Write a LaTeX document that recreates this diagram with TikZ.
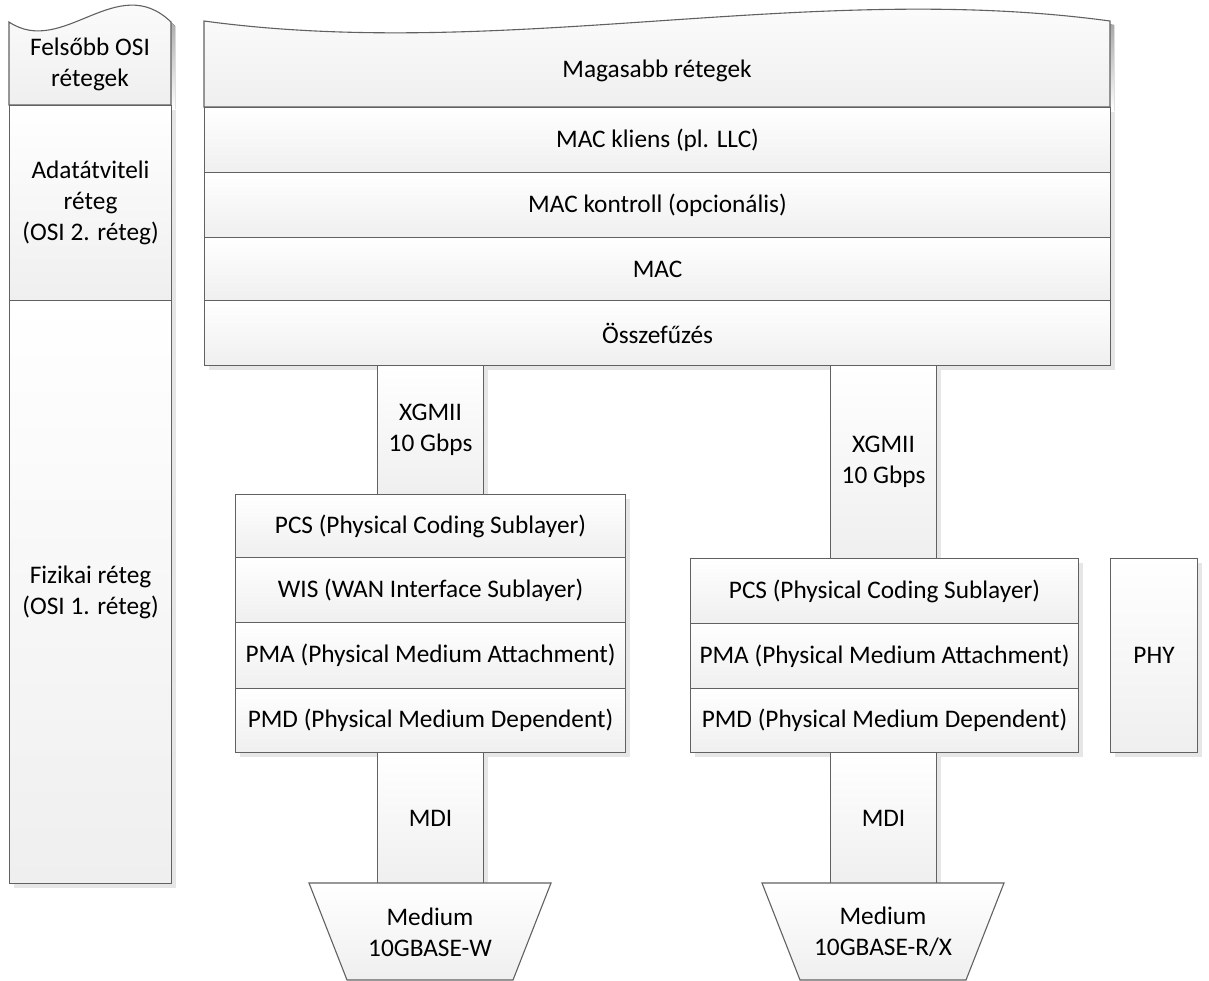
\documentclass[tikz,border=0pt]{standalone}
\usepackage{fontspec}
\setmainfont{Carlito}
\usetikzlibrary{shadows}
\definecolor{edge}{HTML}{616161}
\definecolor{shade}{HTML}{E6E6E6}
\definecolor{cellbot}{HTML}{EFEFEF}
\tikzset{
  txt/.style={align=center, font=\fontsize{25.3}{30.8}\selectfont, inner sep=0pt},
  cellfill/.style={top color=white, bottom color=cellbot},
  cellline/.style={draw=edge, line width=1.1pt},
  cell/.style={cellline, cellfill, rectangle, txt, anchor=north west,
    drop shadow={shadow xshift=4pt, shadow yshift=-4pt, fill=shade, opacity=1}},
}
% \cellbox{name}{left}{top}{right}{bottom}{text}
\newcommand\cellbox[6]{\node[cell, minimum width=#4pt-#2pt, minimum height=#5pt-#3pt] (#1) at (#2,#3) {#6};}
\begin{document}
\begin{tikzpicture}[x=1pt,y=-1pt]
\useasboundingbox (0,0) rectangle (1209,981);

% ---- OSI column on the left ----
\fill[shade] (13,109) -- (13,26) .. controls (67,62) and (121,-26) .. (175,26) -- (175,109) -- cycle;
\path[cellfill] (9,105) -- (9,22) .. controls (63,58) and (117,-30) .. (171,22) -- (171,105) -- cycle;
\draw[cellline] (9,105) -- (9,22) .. controls (63,58) and (117,-30) .. (171,22) -- (171,105) -- cycle;
\node[txt] (felso) at (90,64) {Felsőbb OSI\\rétegek};
\cellbox{adat}{9}{105}{171}{300}{Adatátviteli\\réteg\\(OSI 2. réteg)}
\cellbox{fiz}{9}{300}{171}{883}{Fizikai réteg\\(OSI 1. réteg)}

% ---- common upper layers ----
\fill[shade] (208,111) -- (208,25) .. controls (510,66) and (812,-16) .. (1114,25) -- (1114,111) -- cycle;
\path[cellfill] (204,107) -- (204,21) .. controls (506,62) and (808,-20) .. (1110,21) -- (1110,107) -- cycle;
\draw[cellline] (204,107) -- (204,21) .. controls (506,62) and (808,-20) .. (1110,21) -- (1110,107) -- cycle;
\node[txt] (magas) at (657,71) {Magasabb rétegek};
\cellbox{kliens}{204}{107}{1110}{172}{MAC kliens (pl. LLC)}
\cellbox{kontroll}{204}{172}{1110}{237}{MAC kontroll (opcionális)}
\cellbox{mac}{204}{237}{1110}{300}{MAC}
\cellbox{osszef}{204}{300}{1110}{365}{Összefűzés}

% ---- interfaces ----
\cellbox{xgmiiW}{377}{365}{483}{494}{XGMII\\10 Gbps}
\cellbox{xgmiiR}{830}{365}{936}{558}{XGMII\\10 Gbps}

% ---- 10GBASE-W sublayers ----
\cellbox{pcsW}{235}{494}{625}{557}{PCS (Physical Coding Sublayer)}
\cellbox{wisW}{235}{557}{625}{622}{WIS (WAN Interface Sublayer)}
\cellbox{pmaW}{235}{622}{625}{688}{PMA (Physical Medium Attachment)}
\cellbox{pmdW}{235}{688}{625}{752}{PMD (Physical Medium Dependent)}

% ---- 10GBASE-R/X sublayers ----
\cellbox{pcsR}{690}{558}{1078}{623}{PCS (Physical Coding Sublayer)}
\cellbox{pmaR}{690}{623}{1078}{688}{PMA (Physical Medium Attachment)}
\cellbox{pmdR}{690}{688}{1078}{752}{PMD (Physical Medium Dependent)}

\cellbox{phy}{1110}{558}{1197}{752}{PHY}

% ---- medium dependent interfaces ----
\cellbox{mdiW}{377}{752}{483}{883}{MDI}
\cellbox{mdiR}{830}{752}{936}{883}{MDI}

% ---- media ----
\path[cellfill] (309,883) -- (551,883) -- (513,980) -- (347,980) -- cycle;
\draw[cellline] (309,883) -- (551,883) -- (513,980) -- (347,980) -- cycle;
\node[txt] (medW) at (430,932) {Medium\\10GBASE-W};
\path[cellfill] (762,883) -- (1004,883) -- (966,980) -- (800,980) -- cycle;
\draw[cellline] (762,883) -- (1004,883) -- (966,980) -- (800,980) -- cycle;
\node[txt] (medR) at (883,932) {Medium\\10GBASE-R/X};
\end{tikzpicture}
\end{document}
